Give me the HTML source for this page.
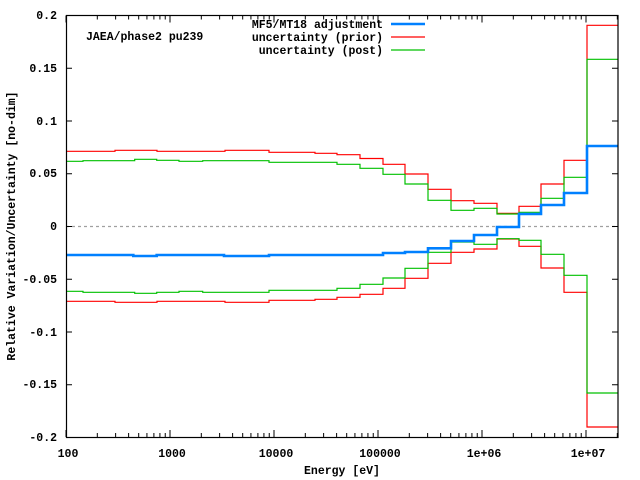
<!DOCTYPE html>
<html><head><meta charset="utf-8"><style>
body{margin:0;background:#fff}
svg{display:block}
text{font-family:"Liberation Mono",monospace;font-size:11.5px;font-weight:bold;fill:#000}
</style></head><body>
<svg width="640" height="480" viewBox="0 0 640 480" xmlns="http://www.w3.org/2000/svg">
<rect width="640" height="480" fill="#fff"/>
<line x1="66" y1="226.5" x2="618" y2="226.5" stroke="#a0a0a0" stroke-width="1.2" stroke-dasharray="3,3"/>
<g id="ticks" stroke="#000" stroke-width="1"></g>
<g fill="none" stroke-width="1.2">
<path stroke="#ff0000" d="M66,151.3 H115 V150.3 H157 V151.3 H225 V150.3 H269 V152.3 H315 V153.3 H337 V154.7 H360 V158.5 H383 V164.3 H405 V174 H428 V189.3 H451 V200.7 H474 V203.3 H497 V213.3 H519 V206.3 H541 V184 H564 V160.3 H587 V25.3 H618"/>
<path stroke="#00c000" d="M66,161.3 H83 V160.7 H134.7 V159.3 H156.7 V160.3 H179 V161.3 H202.7 V160.7 H269 V162.3 H337 V164.3 H360 V168.3 H383 V174.3 H405 V184 H428 V200.3 H451 V210.3 H474 V208.3 H497 V214 H519 V212.3 H541 V198.3 H564 V177.3 H587 V59.3 H618"/>
<path stroke="#ff0000" d="M66,301.3 H115 V302.3 H157 V301.3 H225 V302.3 H269 V300.3 H315 V299.3 H337 V297.3 H360 V294.3 H383 V288.3 H405 V278.3 H428 V263.3 H451 V252.3 H474 V249 H497 V239 H519 V246.3 H541 V268 H564 V292.3 H587 V427 H618"/>
<path stroke="#00c000" d="M66,291.3 H83 V292.3 H134.7 V293.3 H156.7 V292.3 H179 V291.3 H202.7 V292.3 H269 V290.3 H337 V288.3 H360 V284.3 H383 V278 H405 V268.3 H428 V252.3 H451 V242 H474 V244.3 H497 V238.7 H519 V240.3 H541 V254.3 H564 V275.3 H587 V393 H618"/>
<path stroke="#0080ff" stroke-width="2.6" d="M66,255 H133.3 V256 H156.7 V255 H224 V256 H269 V255 H383 V253 H405 V252 H428 V248.3 H451 V241 H474 V235 H497 V227 H519 V214 H541 V205 H564 V193 H587 V146 H618"/>
</g>
<rect x="66.5" y="15.5" width="551.5" height="422" fill="none" stroke="#000" stroke-width="1.2"/>
<g text-anchor="end">
<text x="57" y="19">0.2</text><text x="57" y="72">0.15</text><text x="57" y="125">0.1</text><text x="57" y="177">0.05</text><text x="57" y="230">0</text><text x="57" y="283">-0.05</text><text x="57" y="336">-0.1</text><text x="57" y="388">-0.15</text><text x="57" y="441">-0.2</text>
</g>
<g text-anchor="middle">
<text x="68" y="457">100</text><text x="172" y="457">1000</text><text x="276" y="457">10000</text><text x="380" y="457">100000</text><text x="484" y="457">1e+06</text><text x="588" y="457">1e+07</text>
<text x="342" y="474">Energy [eV]</text>
<text transform="translate(15,226) rotate(-90)">Relative Variation/Uncertainty [no-dim]</text>
</g>
<text x="86" y="40">JAEA/phase2 pu239</text>
<g text-anchor="end">
<text x="383" y="28">MF5/MT18 adjustment</text>
<text x="383" y="41">uncertainty (prior)</text>
<text x="383" y="54">uncertainty (post)</text>
</g>
<line x1="391" y1="24" x2="425" y2="24" stroke="#0080ff" stroke-width="2.6"/>
<line x1="391" y1="37" x2="425" y2="37" stroke="#ff0000" stroke-width="1.2"/>
<line x1="391" y1="50" x2="425" y2="50" stroke="#00c000" stroke-width="1.2"/>
</svg>
<script>
var g=document.getElementById('ticks'),s='';
for(var i=0;i<=8;i++){var y=15.5+i*52.75;s+='<line x1="66" y1="'+y+'" x2="72" y2="'+y+'"/><line x1="612" y1="'+y+'" x2="618" y2="'+y+'"/>';}
for(var d=0;d<6;d++){for(var m=1;m<10;m++){var x=66+104*(d+Math.log10(m));if(x>618)break;var L=m==1?7:4;s+='<line x1="'+x+'" y1="437" x2="'+x+'" y2="'+(437-L)+'"/><line x1="'+x+'" y1="15.5" x2="'+x+'" y2="'+(15.5+L)+'"/>';}}
g.innerHTML=s;
</script>
</body></html>
